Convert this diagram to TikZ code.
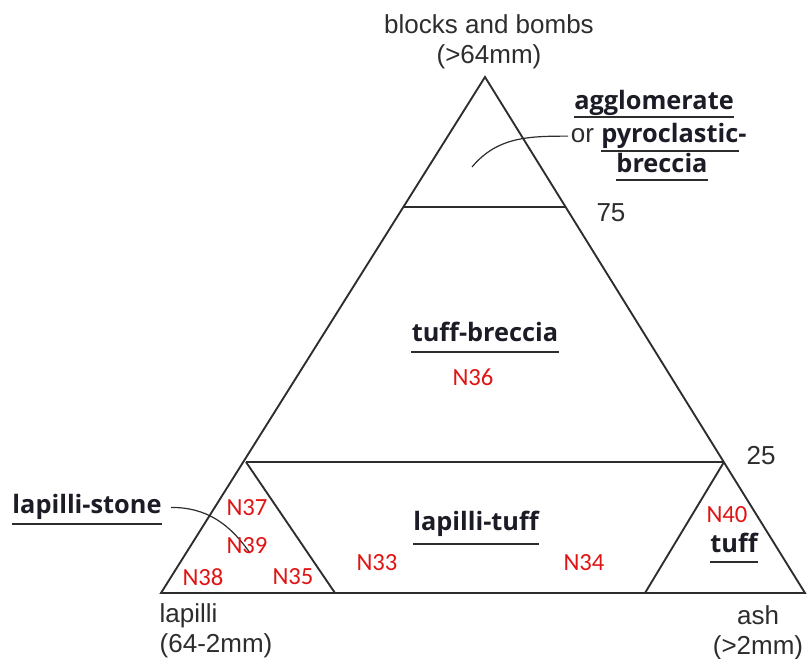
\documentclass[tikz,border=0pt]{standalone}
\usepackage{fontspec}
\setmainfont{Liberation Sans}
\newfontfamily\rockfont{Open Sans}
\newfontfamily\fieldfont{Carlito}
\usepackage{tikz}
\definecolor{fieldred}{RGB}{225,20,20}
\definecolor{edgegray}{RGB}{45,45,45}
\definecolor{rockink}{RGB}{28,28,38}

\begin{document}
\begin{tikzpicture}[x=0.75pt,y=-0.75pt]
\tikzstyle{every node}=[font=\fontsize{19.5}{22.5}\selectfont, text=edgegray]
\tikzstyle{rock}=[font=\rockfont\bfseries\fontsize{19}{22}\selectfont, text=rockink, inner sep=0pt, anchor=base]
\tikzstyle{field}=[font=\fieldfont\fontsize{18.5}{20}\selectfont, text=fieldred, inner sep=0pt]
\fill[white] (0,0) rectangle (808,659);
\useasboundingbox (0,0) rectangle (808,659);
% corners of the diagram
\coordinate (top) at (485,77);
\coordinate (bl) at (161,593);
\coordinate (br) at (805,593);
\coordinate (l75) at (404,207);
\coordinate (r75) at (565,207);
\coordinate (l25) at (246,462);
\coordinate (r25) at (724,462);
\coordinate (lbase) at (335,593);
\coordinate (rbase) at (645,593);
\draw[edgegray, line width=1.4pt, line join=miter] (top) -- (bl) -- (br) -- cycle;
\draw[edgegray, line width=1.4pt] (l75) -- (r75);
\draw[edgegray, line width=1.4pt] (l25) -- (r25);
\draw[edgegray, line width=1.4pt] (l25) -- (lbase);
\draw[edgegray, line width=1.4pt] (r25) -- (rbase);
% end members
\node[align=center] (blocks) at (489,42) {blocks and bombs\\(>64mm)};
\node[align=left, anchor=west] (lapilli) at (155,631) {lapilli\\(64-2mm)};
\node[align=center] (ash) at (758,633) {ash\\(>2mm)};
\node (n75) at (611,213) {75};
\node (n25) at (761,456) {25};
% rock names
\node[rock] (agg) at (654,110) {agglomerate};
\node[anchor=base east, inner sep=2pt] (orword) at (597,143) {or};
\node[rock, anchor=base west] (pyro) at (601,143) {pyroclastic\rlap{-}};
\node[rock] (brec) at (662,173) {breccia};
\node[rock] (tbrec) at (485,342) {tuff-breccia};
\node[rock] (ltuff) at (476,531) {lapilli-tuff};
\node[rock] (lstone) at (87,514) {lapilli-stone};
\node[rock] (tuff) at (734,553) {tuff};
\foreach \n/\d in {agg/7,pyro/8,brec/7,tbrec/10,ltuff/13,lstone/10,tuff/9}
  \draw[edgegray, line width=1pt] ([yshift=-\d*0.75pt]\n.base west) -- ([yshift=-\d*0.75pt]\n.base east);
% pointers
\coordinate (aggtip) at (472,167);
\coordinate (lstip) at (250,553);
\draw[edgegray, line width=0.9pt] (orword.west) to[out=180,in=50] (aggtip);
\draw[edgegray, line width=0.9pt] ([xshift=7pt]lstone.east) to[out=0,in=125] (lstip);
% field labels
\node[field] (N36) at (473,377) {N36};
\node[field] (N33) at (377,563) {N33};
\node[field] (N34) at (584,563) {N34};
\node[field] (N37) at (247,508) {N37};
\node[field] (N39) at (247,546) {N39};
\node[field] (N38) at (203,577) {N38};
\node[field] (N35) at (293,577) {N35};
\node[field] (N40) at (727,515) {N40};
\end{tikzpicture}
\end{document}
